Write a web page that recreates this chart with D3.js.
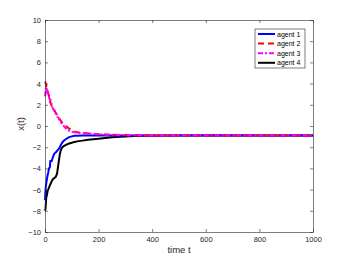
<!DOCTYPE html>
<html>
<head>
<meta charset="utf-8">
<script src="https://cdn.jsdelivr.net/npm/d3@7/dist/d3.min.js"></script>
<style>
  body { margin: 0; background: #fff; }
  text { font-family: "Liberation Sans", Arial, sans-serif; }
</style>
</head>
<body>
<div id="chart"></div>
<script>
// time samples and agent states
var times  = [0, 2, 4, 6, 8, 10, 12, 15, 18, 20, 25, 30, 35, 40, 45, 50, 55, 60, 65, 70, 80, 90, 100, 110, 120, 140, 160, 180, 200, 250, 300, 350, 400, 500, 600, 700, 800, 900, 1000];
var agent1 = [-7.0, -6.0, -5.5, -5.2, -4.9, -4.6, -4.4, -4.0, -3.9, -3.3, -3.3, -2.9, -2.6, -2.5, -2.35, -2.2, -2.0, -1.75, -1.55, -1.4, -1.2, -1.05, -0.98, -0.93, -0.91, -0.9, -0.9, -0.9, -0.9, -0.9, -0.9, -0.9, -0.9, -0.9, -0.9, -0.9, -0.9, -0.9, -0.9];
var agent2 = [4.2, 4.1, 3.9, 3.6, 3.5, 3.3, 3.1, 2.8, 2.4, 2.2, 1.9, 1.7, 1.45, 1.25, 1.05, 0.85, 0.65, 0.45, 0.3, 0.15, -0.05, -0.25, -0.4, -0.52, -0.6, -0.66, -0.7, -0.74, -0.78, -0.83, -0.86, -0.88, -0.89, -0.9, -0.9, -0.9, -0.9, -0.9, -0.9];
var agent3 = [2.8, 3.2, 3.7, 3.6, 3.2, 3.0, 3.1, 2.7, 2.5, 2.5, 2.0, 1.6, 1.5, 1.2, 0.9, 0.8, 0.5, 0.3, 0.2, 0.0, -0.3, -0.45, -0.55, -0.6, -0.63, -0.68, -0.72, -0.75, -0.78, -0.83, -0.86, -0.88, -0.89, -0.9, -0.9, -0.9, -0.9, -0.9, -0.9];
var agent4 = [-8.0, -7.8, -7.0, -6.3, -6.4, -6.1, -6.0, -5.8, -5.6, -5.5, -5.2, -5.0, -4.9, -4.8, -4.5, -3.6, -2.7, -2.2, -2.0, -1.9, -1.75, -1.65, -1.58, -1.5, -1.45, -1.38, -1.3, -1.25, -1.2, -1.07, -0.98, -0.93, -0.91, -0.9, -0.9, -0.9, -0.9, -0.9, -0.9];
var names  = ["agent 1", "agent 2", "agent 3", "agent 4"];
var xTicks = [0, 200, 400, 600, 800, 1000];
var yTicks = [-10, -8, -6, -4, -2, 0, 2, 4, 6, 8, 10];

function init() {
    var w = 346, h = 260;
    var left = 45, right = 313, top = 20, bottom = 232;

    var svg = d3.select("#chart").append("svg")
        .attr("width", w).attr("height", h);

    var xscale = d3.scaleLinear().domain([0, 1000]).range([left, right]);
    var yscale = d3.scaleLinear().domain([-10, 10]).range([bottom, top]);

    var series = [
        { name: names[0], values: agent1, color: "#0000ff", dash: null },
        { name: names[1], values: agent2, color: "#ff0000", dash: "6,4" },
        { name: names[2], values: agent3, color: "#ff00ff", dash: "5,2,2,2" },
        { name: names[3], values: agent4, color: "#000000", dash: null }
    ];

    var line = d3.line()
        .x(function(d, i) { return xscale(times[i]); })
        .y(function(d) { return yscale(d); });

    // draw order: 4 and 1 underneath, then 2, 3 on top
    [series[3], series[0], series[1], series[2]].forEach(function(s) {
        svg.append("path")
            .attr("d", line(s.values))
            .attr("fill", "none")
            .attr("stroke", s.color)
            .attr("stroke-width", 2)
            .attr("stroke-dasharray", s.dash);
    });

    var axisColor = "#262626";
    var tick = 3;
    var fmt = d3.format("d");

    var xAxis = d3.axisBottom(xscale).tickValues(xTicks).tickFormat(fmt).tickSizeInner(-tick).tickSizeOuter(0).tickPadding(5);
    var yAxis = d3.axisLeft(yscale).tickValues(yTicks).tickFormat(fmt).tickSizeInner(-tick).tickSizeOuter(0).tickPadding(4);

    var gx = svg.append("g").attr("transform", "translate(0," + bottom + ")").call(xAxis);
    var gy = svg.append("g").attr("transform", "translate(" + left + ",0)").call(yAxis);
    var gxt = svg.append("g").attr("transform", "translate(0," + top + ")")
        .call(d3.axisTop(xscale).tickValues(xTicks).tickSizeInner(-tick).tickSizeOuter(0).tickFormat(""));
    var gyr = svg.append("g").attr("transform", "translate(" + right + ",0)")
        .call(d3.axisRight(yscale).tickValues(yTicks).tickSizeInner(-tick).tickSizeOuter(0).tickFormat(""));

    [gx, gy, gxt, gyr].forEach(function(g) {
        g.selectAll(".domain").attr("stroke", axisColor).attr("stroke-width", 0.6);
        g.selectAll(".tick line").attr("stroke", axisColor).attr("stroke-width", 0.6);
        g.selectAll("text").attr("fill", axisColor).style("font-size", "7.5px")
            .style("font-family", "'Liberation Sans', Arial, sans-serif");
    });

    svg.append("text")
        .attr("x", (left + right) / 2).attr("y", 253)
        .attr("text-anchor", "middle")
        .attr("fill", axisColor)
        .style("font-size", "9.5px")
        .text("time t");

    svg.append("text")
        .attr("transform", "translate(24,124) rotate(-90)")
        .attr("text-anchor", "middle")
        .attr("fill", axisColor)
        .style("font-size", "9.5px")
        .text("x(t)");

    // legend
    var lg = svg.append("g");
    lg.append("rect")
        .attr("x", 255).attr("y", 29).attr("width", 50).attr("height", 39)
        .attr("fill", "#fff").attr("stroke", axisColor).attr("stroke-width", 0.6);
    series.forEach(function(s, i) {
        var yy = 34 + i * 9.6;
        lg.append("line")
            .attr("x1", 258).attr("x2", 275).attr("y1", yy).attr("y2", yy)
            .attr("stroke", s.color).attr("stroke-width", 2)
            .attr("stroke-dasharray", s.dash);
        lg.append("text")
            .attr("x", 277).attr("y", yy + 2.5)
            .attr("fill", "#000")
            .style("font-size", "7px")
            .text(s.name);
    });
}
window.onload = init;
</script>
</body>
</html>
